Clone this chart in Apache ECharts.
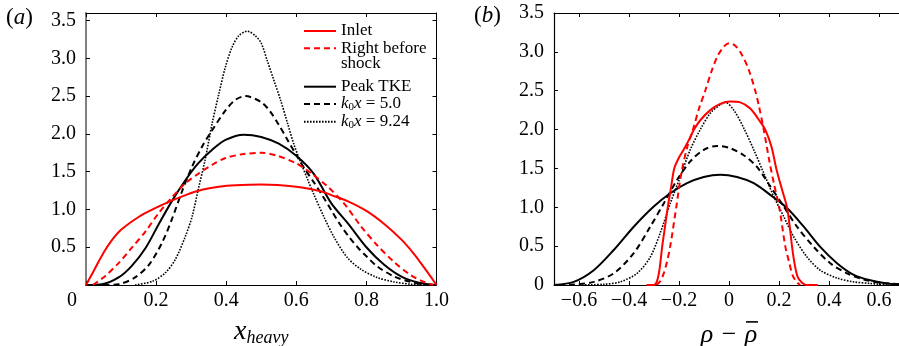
<!DOCTYPE html>
<html>
<head>
<meta charset="utf-8">
<script src="https://cdn.jsdelivr.net/npm/echarts@6/dist/echarts.min.js"></script>
<style>
html,body{margin:0;padding:0;background:#fff;}
#c{width:899px;height:346px;}
</style>
</head>
<body>
<div id="c"></div>
<script>
// ---------- Panel (a): x_heavy ----------
const aInletX = [0, 0.02, 0.035, 0.053, 0.075, 0.1, 0.15, 0.19, 0.236, 0.284, 0.331, 0.379, 0.426, 0.5, 0.6, 0.67, 0.70, 0.746, 0.8, 0.85, 0.9, 0.936, 0.965, 0.985, 1.0];
const aInletY = [0, 0.17, 0.30, 0.45, 0.60, 0.73, 0.90, 1.00, 1.10, 1.19, 1.26, 1.30, 1.32, 1.33, 1.30, 1.24, 1.19, 1.11, 0.98, 0.81, 0.60, 0.41, 0.23, 0.10, 0];
const aRbsX = [0.02, 0.055, 0.093, 0.13, 0.17, 0.207, 0.245, 0.284, 0.32, 0.36, 0.398, 0.445, 0.5, 0.546, 0.6, 0.642, 0.69, 0.736, 0.784, 0.83, 0.88, 0.927, 0.965, 0.99];
const aRbsY = [0, 0.12, 0.29, 0.49, 0.71, 0.95, 1.16, 1.35, 1.47, 1.59, 1.68, 1.73, 1.75, 1.71, 1.61, 1.48, 1.30, 1.08, 0.78, 0.53, 0.30, 0.13, 0.04, 0];
const aPeakX = [0, 0.046, 0.093, 0.13, 0.17, 0.207, 0.245, 0.284, 0.32, 0.36, 0.398, 0.45, 0.5, 0.55, 0.6, 0.65, 0.7, 0.75, 0.8, 0.85, 0.9, 0.95, 1.0];
const aPeakY = [0, 0.01, 0.10, 0.25, 0.49, 0.80, 1.11, 1.39, 1.61, 1.79, 1.92, 1.99, 1.96, 1.87, 1.71, 1.47, 1.08, 0.80, 0.50, 0.27, 0.11, 0.03, 0];
const aK5X = [0.05, 0.093, 0.14, 0.18, 0.217, 0.245, 0.274, 0.303, 0.331, 0.36, 0.398, 0.426, 0.455, 0.5, 0.525, 0.55, 0.575, 0.6, 0.625, 0.65, 0.675, 0.7, 0.725, 0.75, 0.775, 0.8, 0.83, 0.88, 0.927, 0.97];
const aK5Y = [0, 0.01, 0.10, 0.27, 0.56, 0.87, 1.24, 1.57, 1.83, 2.05, 2.31, 2.45, 2.50, 2.42, 2.30, 2.12, 1.92, 1.72, 1.53, 1.36, 1.18, 0.99, 0.80, 0.64, 0.50, 0.38, 0.25, 0.11, 0.04, 0];
const aK9X = [0.14, 0.19, 0.226, 0.255, 0.284, 0.303, 0.32, 0.34, 0.36, 0.379, 0.398, 0.417, 0.436, 0.46, 0.483, 0.5, 0.517, 0.536, 0.555, 0.575, 0.594, 0.613, 0.632, 0.65, 0.679, 0.708, 0.746, 0.784, 0.83, 0.88, 0.927, 0.97];
const aK9Y = [0, 0.05, 0.16, 0.34, 0.65, 0.91, 1.26, 1.66, 2.14, 2.53, 2.89, 3.15, 3.30, 3.36, 3.30, 3.20, 2.97, 2.71, 2.45, 2.14, 1.85, 1.62, 1.40, 1.20, 0.90, 0.63, 0.36, 0.21, 0.10, 0.04, 0.01, 0];

// ---------- Panel (b): rho - rho_bar ----------
const bInletX = [-0.33, -0.30, -0.288, -0.278, -0.267, -0.256, -0.245, -0.232, -0.219, -0.2, -0.18, -0.155, -0.14, -0.115, -0.075, -0.035, 0.005, 0.045, 0.085, 0.125, 0.145, 0.17, 0.189, 0.21, 0.232, 0.243, 0.252, 0.262, 0.275, 0.292, 0.31, 0.355];
const bInletY = [0, 0, 0.05, 0.20, 0.50, 0.75, 1.00, 1.25, 1.50, 1.64, 1.75, 1.90, 2.00, 2.12, 2.25, 2.33, 2.36, 2.35, 2.27, 2.10, 2.00, 1.78, 1.50, 1.25, 1.00, 0.75, 0.50, 0.28, 0.10, 0.03, 0, 0];
const bRbsX = [-0.29, -0.275, -0.261, -0.248, -0.235, -0.211, -0.19, -0.165, -0.144, -0.12, -0.095, -0.07, -0.045, -0.02, 0, 0.025, 0.052, 0.079, 0.105, 0.12, 0.139, 0.16, 0.18, 0.201, 0.225, 0.24, 0.255, 0.27, 0.285];
const bRbsY = [0, 0.05, 0.15, 0.30, 0.50, 1.00, 1.45, 1.80, 2.00, 2.27, 2.50, 2.75, 2.95, 3.07, 3.11, 3.08, 2.96, 2.77, 2.50, 2.30, 2.00, 1.62, 1.30, 1.00, 0.50, 0.30, 0.12, 0.04, 0];
const bPeakX = [-0.70, -0.621, -0.541, -0.461, -0.381, -0.301, -0.235, -0.168, -0.101, -0.035, 0.032, 0.099, 0.165, 0.232, 0.299, 0.365, 0.432, 0.499, 0.565, 0.632, 0.70];
const bPeakY = [0, 0.04, 0.19, 0.45, 0.75, 1.01, 1.18, 1.31, 1.39, 1.42, 1.39, 1.31, 1.16, 0.99, 0.75, 0.49, 0.28, 0.13, 0.06, 0.02, 0.005];
const bK5X = [-0.68, -0.621, -0.541, -0.461, -0.381, -0.315, -0.261, -0.208, -0.155, -0.101, -0.048, 0.005, 0.059, 0.112, 0.165, 0.219, 0.272, 0.339, 0.405, 0.472, 0.539, 0.605, 0.70];
const bK5Y = [0, 0.005, 0.04, 0.15, 0.41, 0.75, 1.05, 1.35, 1.59, 1.74, 1.79, 1.76, 1.67, 1.52, 1.27, 1.01, 0.75, 0.49, 0.28, 0.15, 0.07, 0.03, 0.005];
const bK9X = [-0.6, -0.5, -0.435, -0.368, -0.315, -0.275, -0.235, -0.195, -0.155, -0.115, -0.075, -0.035, -0.015, 0.019, 0.059, 0.099, 0.139, 0.179, 0.219, 0.259, 0.312, 0.365, 0.432, 0.499, 0.565, 0.64];
const bK9Y = [0, 0.01, 0.04, 0.15, 0.36, 0.67, 1.05, 1.39, 1.74, 2.00, 2.21, 2.32, 2.35, 2.25, 2.02, 1.74, 1.44, 1.14, 0.88, 0.62, 0.36, 0.19, 0.09, 0.04, 0.02, 0];

// ---------- ticks & names ----------
const aXTicks = [0, 0.2, 0.4, 0.6, 0.8, 1.0];
const aYTicks = [0, 0.5, 1.0, 1.5, 2.0, 2.5, 3.0, 3.5];
const aYLabels = [0.5, 1.0, 1.5, 2.0, 2.5, 3.0, 3.5];
const bXTicks = [-0.6, -0.4, -0.2, 0, 0.2, 0.4, 0.6];
const bYTicks = [0, 0.5, 1.0, 1.5, 2.0, 2.5, 3.0, 3.5];
const seriesNames = ['Inlet', 'Right before\nshock', 'Peak TKE', 'k0x = 5.0', 'k0x = 9.24'];

const FONT = '"Liberation Serif", "Times New Roman", Times, serif';
const RED = '#ff0000';
const BLK = '#000000';

function pairs(xs, ys) { return xs.map((x, i) => [x, ys[i]]); }

const styles = [
  { color: RED, width: 2, type: 'solid' },
  { color: RED, width: 2, type: [6, 4] },
  { color: BLK, width: 2, type: 'solid' },
  { color: BLK, width: 2, type: [6, 4] },
  { color: BLK, width: 1.6, type: [1.6, 1.4] }
];
const aData = [pairs(aInletX, aInletY), pairs(aRbsX, aRbsY), pairs(aPeakX, aPeakY), pairs(aK5X, aK5Y), pairs(aK9X, aK9Y)];
const bData = [pairs(bInletX, bInletY), pairs(bRbsX, bRbsY), pairs(bPeakX, bPeakY), pairs(bK5X, bK5Y), pairs(bK9X, bK9Y)];

const series = [];
seriesNames.forEach((n, i) => {
  [aData, bData].forEach((d, g) => {
    series.push({
      name: n, type: 'line', xAxisIndex: g * 2, yAxisIndex: g * 2,
      data: d[i], showSymbol: false, symbol: 'none', smooth: 0.3,
      lineStyle: { color: styles[i].color, width: styles[i].width, type: styles[i].type },
      itemStyle: { color: styles[i].color },
      z: 10 - i
    });
  });
});

const fmt1 = v => (Math.abs(v) < 1e-9 ? '0' : (v < 0 ? '\u2212' : '') + Math.abs(v).toFixed(1));

function xAx(grid, min, max, ticks, pos, showLabel, labelFmt, lineColor, lineWidth) {
  return {
    type: 'value', gridIndex: grid, min: min, max: max, position: pos,
    splitLine: { show: false },
    axisLine: { show: true, onZero: false, lineStyle: { color: lineColor, width: lineWidth } },
    axisTick: { show: true, inside: true, length: 4, customValues: ticks, lineStyle: { color: BLK, width: 1 } },
    axisLabel: { show: showLabel, customValues: ticks, formatter: labelFmt, margin: 6,
      fontFamily: FONT, fontSize: 20, color: BLK,
      rich: { z: { fontFamily: FONT, fontSize: 20, color: BLK, padding: [0, 28, 0, 0] } } }
  };
}
function yAx(grid, min, max, ticks, labels, pos, showLabel, lineColor, lineWidth) {
  return {
    type: 'value', gridIndex: grid, min: min, max: max, position: pos,
    splitLine: { show: false },
    axisLine: { show: true, onZero: false, lineStyle: { color: lineColor, width: lineWidth } },
    axisTick: { show: true, inside: true, length: 4, customValues: ticks, lineStyle: { color: BLK, width: 1 } },
    axisLabel: { show: showLabel, customValues: labels, formatter: fmt1, margin: 10,
      fontFamily: FONT, fontSize: 20, color: BLK }
  };
}

const xA = xAx(0, 0, 1, aXTicks, 'bottom', true, v => (v === 0 ? '{z|0}' : v.toFixed(1)), BLK, 1.2);
xA.name = '{x|x}{s|heavy}';
xA.nameLocation = 'middle';
xA.nameGap = 32;
xA.nameTextStyle = { rich: {
  x: { fontFamily: FONT, fontStyle: 'italic', fontSize: 28, color: BLK },
  s: { fontFamily: FONT, fontStyle: 'italic', fontSize: 18, color: BLK, padding: [12, 0, 0, 0] } } };
const xB = xAx(1, -0.7, 0.7, bXTicks, 'bottom', true, fmt1, BLK, 1.2);
xB.name = '{g|}{b|}\n{r|\u03C1}{m|\u2212}{r|\u03C1}';
xB.nameLocation = 'middle';
xB.nameGap = 31;
xB.nameTextStyle = { rich: {
  g: { width: 46, height: 2, lineHeight: 5 },
  b: { width: 12, height: 1.6, lineHeight: 5, backgroundColor: BLK },
  r: { fontFamily: FONT, fontStyle: 'italic', fontSize: 26, color: BLK, width: 14, align: 'center', lineHeight: 22 },
  m: { fontFamily: FONT, fontSize: 26, color: BLK, width: 30, align: 'center', lineHeight: 22 } } };

const legendDefs = [
  { name: seriesNames[0], top: 22.5 },
  { name: seriesNames[1], top: 24.6, pad: true },
  { name: seriesNames[2], top: 78.2 },
  { name: seriesNames[3], top: 95.5 },
  { name: seriesNames[4], top: 113.2 }
];
const legendRich = {
  i: { fontFamily: FONT, fontStyle: 'italic', fontSize: 17, color: BLK },
  s: { fontFamily: FONT, fontSize: 11, color: BLK, padding: [7, 0, 0, 0] },
  t: { fontFamily: FONT, fontSize: 17, color: BLK }
};
const legendFmt = n => {
  if (n.indexOf('k0x') === 0) return '{i|k}{s|0}{i|x}{t| = ' + n.split('= ')[1] + '}';
  return n;
};
const legends = legendDefs.map(d => ({
  data: [d.name], left: 303, top: d.top, orient: 'vertical', padding: 0,
  itemWidth: 32, itemHeight: 12, itemGap: 0, itemTextGap: 7, selectedMode: false,
  itemStyle: { opacity: 0, borderWidth: 0 },
  formatter: legendFmt,
  textStyle: Object.assign({ fontFamily: FONT, fontSize: 17, color: BLK, lineHeight: 15.7, rich: legendRich },
    d.pad ? { padding: [15.7, 0, 0, 0] } : { lineHeight: 17 })
}));

const titleRich = {
  p: { fontFamily: FONT, fontSize: 23, fontWeight: 'normal', color: BLK },
  i: { fontFamily: FONT, fontStyle: 'italic', fontWeight: 'normal', fontSize: 23, color: BLK }
};
const option = {
  animation: false,
  backgroundColor: '#ffffff',
  title: [
    { text: '{p|(}{i|a}{p|)}', left: 6, top: 6, padding: 0, textStyle: { fontWeight: 'normal', rich: titleRich } },
    { text: '{p|(}{i|b}{p|)}', left: 474, top: 4, padding: 0, textStyle: { fontWeight: 'normal', rich: titleRich } }
  ],
  legend: legends,
  grid: [
    { left: 86, top: 13, width: 350.5, height: 272, containLabel: false, outerBoundsMode: 'none' },
    { left: 554, top: 13, width: 350, height: 272, containLabel: false, outerBoundsMode: 'none' }
  ],
  xAxis: [
    xA,
    xAx(0, 0, 1, aXTicks, 'top', false, null, BLK, 1),
    xB,
    xAx(1, -0.7, 0.7, bXTicks, 'top', false, null, BLK, 1)
  ],
  yAxis: [
    yAx(0, 0, 3.6, aYTicks, aYLabels, 'left', true, '#808080', 2),
    yAx(0, 0, 3.6, aYTicks, aYLabels, 'right', false, BLK, 1),
    yAx(1, 0, 3.5, bYTicks, bYTicks, 'left', true, BLK, 1.2),
    yAx(1, 0, 3.5, bYTicks, bYTicks, 'right', false, BLK, 1)
  ],
  series: series
};
const chart = echarts.init(document.getElementById('c'), null, { renderer: 'canvas' });
chart.setOption(option);
</script>
</body>
</html>
